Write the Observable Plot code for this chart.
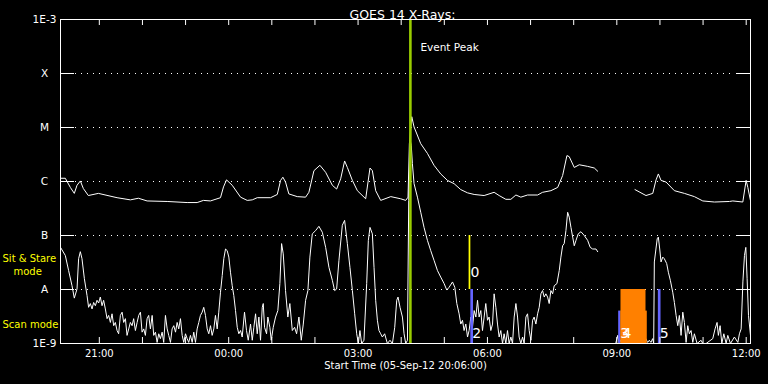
<!DOCTYPE html>
<html><head><meta charset="utf-8">
<script src="https://cdn.jsdelivr.net/npm/d3@7"></script>
<script src="https://cdn.jsdelivr.net/npm/@observablehq/plot@0.6"></script>
<style>html,body{margin:0;padding:0;background:#000;overflow:hidden;} #chart{width:768px;height:384px;}</style>
</head><body><div id="chart"></div>
<script>
// ---- data (minutes after start, log10 flux W/m^2) ----
const startTime = "2012-09-05T20:06:00Z";
const endMinutes = 960;
const titleText = "GOES 14 X-Rays:";
const xLabelText = "Start Time (05-Sep-12 20:06:00)";
const peakLabel = "Event Peak";
const peakMinute = 486.8;

const longChannel = [[0,-5.94],[6.7,-5.94],[13.7,-6.11],[19.2,-6.22],[23.0,-6.07],[27.6,-5.99],[31.8,-6.13],[38.7,-6.26],[52.7,-6.22],[78.7,-6.30],[97.2,-6.34],[108.4,-6.31],[120.5,-6.36],[148.4,-6.37],[176.2,-6.39],[190.1,-6.39],[198.9,-6.35],[208.6,-6.36],[222.6,-6.30],[226.8,-6.10],[231.0,-5.97],[238.9,-6.07],[250.5,-6.29],[259.8,-6.35],[266.8,-6.34],[273.7,-6.30],[292.3,-6.30],[301.6,-6.24],[306.2,-5.98],[309.4,-5.92],[313.1,-6.01],[317.7,-6.23],[329.4,-6.28],[341.0,-6.29],[345.6,-6.20],[352.6,-5.80],[360.9,-5.70],[368.9,-5.83],[378.2,-6.07],[384.2,-6.14],[389.8,-5.95],[395.3,-5.62],[399.1,-5.74],[406.1,-5.98],[413.0,-6.17],[424.6,-6.32],[430.6,-5.75],[433.9,-5.80],[438.5,-6.17],[445.5,-6.35],[459.5,-6.28],[473.3,-6.32],[480.3,-6.35],[483.5,-6.29],[485.4,-5.30],[488.7,-4.80],[491.9,-4.99],[501.2,-5.30],[510.5,-5.48],[519.7,-5.70],[529.0,-5.86],[538.4,-5.98],[547.6,-6.04],[556.9,-6.15],[566.3,-6.21],[575.5,-6.24],[589.4,-6.26],[603.3,-6.20],[610.3,-6.26],[619.6,-6.33],[626.6,-6.33],[633.6,-6.25],[640.5,-6.29],[649.8,-6.25],[663.8,-6.25],[670.7,-6.20],[682.3,-6.17],[691.7,-6.11],[698.6,-5.89],[704.6,-5.52],[707.8,-5.54],[714.8,-5.74],[721.7,-5.69],[733.4,-5.72],[742.7,-5.75],[747.4,-5.81],[770,null],[799.3,-6.15],[814.6,-6.26],[824.0,-6.22],[828.6,-5.97],[831.8,-5.86],[835.5,-5.98],[842.5,-6.01],[854.1,-6.17],[868.0,-6.22],[881.9,-6.28],[893.6,-6.36],[909.8,-6.38],[930.7,-6.37],[935.4,-6.36],[949.3,-6.38],[953.9,-5.98],[956.3,-6.11],[959.9,-6.35]];

const shortChannel = [[0,-7.22],[6.7,-7.37],[11.3,-7.65],[16.0,-7.93],[19.2,-8.16],[23.0,-7.99],[25.2,-7.43],[27.6,-7.30],[29.9,-7.43],[33.2,-7.80],[36.9,-8.11],[39.1,-8.33],[41.5,-8.26],[43.9,-8.36],[46.1,-8.24],[48.5,-8.30],[50.8,-8.20],[53.1,-8.25],[55.4,-8.14],[57.8,-8.30],[60.0,-8.20],[62.4,-8.36],[64.8,-8.54],[67.0,-8.48],[69.4,-8.61],[71.7,-8.45],[74.0,-8.67],[76.3,-8.61],[78.7,-8.76],[80.9,-8.82],[83.3,-8.48],[85.7,-8.42],[87.9,-8.61],[90.3,-8.54],[92.6,-8.85],[94.9,-8.73],[97.2,-8.61],[99.6,-8.67],[101.8,-8.54],[104.2,-8.76],[106.6,-8.61],[108.8,-8.48],[111.2,-8.42],[113.5,-8.79],[115.8,-8.73],[118.1,-8.85],[120.5,-8.54],[122.7,-8.48],[125.1,-8.73],[127.5,-8.48],[129.7,-8.85],[132.1,-8.79],[134.4,-8.98],[136.7,-8.82],[139.0,-8.91],[141.4,-8.79],[143.6,-8.98],[146.0,-8.48],[148.4,-8.73],[150.6,-8.85],[153.0,-8.98],[155.3,-8.73],[157.6,-8.67],[160.0,-8.79],[162.3,-8.61],[164.5,-8.73],[166.9,-8.54],[169.3,-8.85],[171.5,-8.98],[173.9,-8.82],[176.2,-8.91],[178.4,-8.98],[180.8,-8.85],[183.2,-8.98],[185.4,-8.79],[187.8,-8.98],[190.1,-8.73],[192.4,-8.61],[194.7,-8.48],[197.1,-8.42],[199.3,-8.33],[201.7,-8.48],[204.1,-8.73],[206.3,-8.82],[208.7,-8.67],[211.0,-8.85],[213.3,-8.73],[215.6,-8.48],[218.0,-8.73],[220.2,-8.42],[222.6,-8.05],[225.0,-7.74],[227.2,-7.43],[229.6,-7.25],[231.9,-7.28],[234.2,-7.40],[236.5,-7.68],[238.9,-7.93],[241.1,-8.11],[243.5,-8.39],[245.9,-8.70],[248.1,-8.82],[250.5,-8.76],[252.8,-8.88],[256.0,-8.42],[258.8,-8.76],[261.2,-8.94],[264.4,-8.64],[266.8,-8.94],[269.0,-8.70],[271.4,-8.45],[273.7,-8.82],[276.0,-8.51],[278.3,-8.94],[280.7,-8.33],[282.1,-8.26],[283.9,-8.70],[286.7,-8.82],[288.5,-8.51],[291.3,-8.70],[293.2,-8.94],[296.0,-8.70],[299.2,-8.51],[302.4,-8.39],[305.2,-7.89],[307.6,-7.15],[309.9,-7.34],[313.1,-8.02],[316.3,-8.51],[319.1,-8.26],[322.5,-8.76],[325.7,-8.70],[328.5,-8.82],[331.7,-8.51],[335.0,-8.94],[337.8,-8.64],[341.0,-8.20],[344.2,-8.02],[347.0,-7.40],[350.3,-6.97],[354.9,-6.91],[359.5,-6.83],[364.3,-6.94],[368.9,-7.22],[373.5,-7.59],[378.2,-7.83],[381.4,-8.02],[384.2,-7.99],[387.4,-7.46],[392.1,-6.81],[395.3,-6.72],[399.1,-7.15],[402.7,-7.59],[406.1,-8.02],[409.3,-8.45],[412.1,-8.82],[414.4,-9.00],[416.6,-8.76],[419.0,-9.00],[422.2,-8.94],[426.0,-7.89],[428.3,-7.09],[430.6,-6.85],[433.9,-6.97],[436.2,-7.59],[438.5,-8.20],[440.9,-8.57],[443.1,-8.76],[445.5,-8.82],[447.8,-8.88],[451.0,-8.82],[454.8,-9.00],[458.4,-8.94],[461.8,-9.00],[465.0,-8.70],[467.8,-8.20],[469.6,-8.14],[472.4,-8.33],[475.7,-8.51],[478.0,-8.82],[480.3,-9.00],[482.7,-8.94],[484.5,-6.35],[486.6,-5.24],[488.0,-5.33],[489.6,-5.67],[491.9,-6.04],[496.6,-6.29],[501.2,-6.57],[505.8,-6.85],[510.5,-7.09],[515.1,-7.28],[519.7,-7.46],[524.5,-7.65],[529.0,-7.77],[533.7,-7.89],[537.4,-8.01],[540.6,-7.96],[545.4,-7.86],[548.6,-7.96],[551.4,-8.26],[554.6,-8.45],[556.9,-8.64],[559.3,-8.57],[561.5,-8.76],[563.9,-8.64],[566.3,-8.88],[568.5,-8.76],[570.9,-8.51],[573.2,-8.70],[575.5,-8.39],[577.9,-8.51],[580.2,-8.20],[582.4,-8.51],[584.8,-8.39],[587.1,-8.76],[589.4,-8.51],[591.7,-8.26],[594.1,-8.57],[596.3,-8.51],[598.7,-8.76],[601.1,-8.64],[603.3,-8.08],[605.7,-8.33],[608.0,-8.64],[610.3,-8.88],[612.6,-8.76],[615.0,-9.00],[617.2,-8.82],[619.6,-9.00],[621.9,-8.76],[624.2,-9.00],[626.6,-8.88],[628.9,-9.00],[631.2,-8.51],[633.6,-8.26],[635.9,-8.51],[638.1,-8.88],[640.5,-9.00],[642.9,-8.88],[645.1,-9.00],[647.5,-8.51],[649.8,-8.45],[652.1,-8.76],[654.5,-8.94],[656.8,-8.57],[659.0,-8.51],[661.4,-8.64],[663.8,-8.45],[666.0,-8.33],[668.4,-8.08],[670.7,-8.02],[673.0,-8.14],[675.3,-8.08],[677.7,-8.14],[679.9,-8.26],[682.3,-8.02],[684.7,-8.08],[686.9,-7.93],[690.7,-7.89],[693.9,-7.65],[696.2,-7.40],[698.6,-7.19],[700.8,-7.15],[703.2,-6.91],[705.6,-6.57],[707.8,-6.66],[710.2,-6.85],[712.6,-7.03],[714.8,-7.19],[717.2,-7.09],[720.3,-6.97],[724.1,-6.93],[728.7,-7.00],[733.4,-7.09],[737.0,-7.22],[740.4,-7.25],[745.0,-7.25],[747.4,-7.30],[760,null],[772.5,-9.00],[775.2,-8.85],[777.3,-9.00],[785,-8.80],[800,-8.90],[812,-8.85],[816.9,-8.98],[819.2,-8.94],[821.5,-8.98],[823.9,-8.91],[825.3,-9.00],[826.2,-7.49],[830.2,-7.06],[831.8,-7.03],[833.7,-7.25],[835.5,-7.49],[837.9,-7.40],[840.1,-7.43],[843.4,-7.52],[845.7,-7.68],[848.5,-7.83],[851.8,-8.05],[854.1,-8.24],[856.5,-8.48],[858.8,-8.67],[861.0,-8.48],[863.4,-8.85],[865.8,-8.42],[868.0,-8.61],[870.4,-8.98],[872.7,-8.67],[874.9,-8.82],[877.3,-8.76],[879.7,-8.98],[881.9,-8.82],[885.7,-9.00],[891.2,-8.94],[893.6,-9.00],[898.2,-9.00],[907.5,-8.91],[910.7,-8.73],[913.5,-8.61],[915.3,-8.85],[917.7,-8.67],[920.1,-9.00],[922.9,-8.82],[926.1,-9.00],[928.4,-8.85],[932.1,-9.00],[937.6,-8.88],[942.4,-8.98],[944.6,-8.82],[947.0,-8.73],[949.4,-7.86],[951.6,-7.37],[953.5,-7.22],[955.3,-7.80],[957.2,-8.48],[960.0,-8.85]];

const yTickExponents = [-9,-8,-7,-6,-5,-4,-3];
const yTickLabels = ["1E-9","A","B","C","M","X","1E-3"];
const xTickLabels = ["21:00","00:00","03:00","06:00","09:00","12:00"];
const xTickMinutes = [54,234,414,594,774,954];

const modeNames = ["Sit & Stare","mode","Scan mode"];

const eventIds = ["0","2","3","4","","5"];
const eventKinds = ["sitstare","scan","scan","raster","raster","scan"];
const eventStart = [568.5,570.9,776.6,779.8,779.8,831.8];
const eventEnd = [570.9,574.6,779.8,814.6,816.4,835.5];
const eventCoverage = [1,1,0.6,1,0.6,1];

// ---- build ----
const t0 = new Date(startTime).getTime();
const toDate = m => new Date(t0 + m * 60000);
const series = arr => arr.map(([m, v]) => ({time: toDate(m), flux: v == null ? null : Math.pow(10, v)}));
const longData = series(longChannel);
const shortData = series(shortChannel);
const rowBottom = {sitstare: -8, scan: -9, raster: -9};
const kindColor = {sitstare: "#ffff00", scan: "#6464ff", raster: "#ff8000"};
const events = eventIds.map((id, i) => ({
  id, kind: eventKinds[i],
  x1: toDate(eventStart[i]), x2: toDate(eventEnd[i]),
  y1: Math.pow(10, rowBottom[eventKinds[i]]),
  y2: Math.pow(10, rowBottom[eventKinds[i]] + eventCoverage[i])
}));
const yTicks = yTickExponents.map((e, i) => ({value: Math.pow(10, e), label: yTickLabels[i]}));
const gridTicks = yTicks.slice(1, -1);
const xTicks = xTickLabels.map((l, i) => ({time: toDate(xTickMinutes[i]), label: l}));
const hourTicks = d3.range(54, endMinutes, 60).map(toDate);
const peakDate = toDate(peakMinute);

const W = 768, H = 384, mL = 60, mR = 18, mT = 19, mB = 41;
const frameW = W - mL - mR, frameH = H - mT - mB;
const white = "#ffffff";
const font = "DejaVu Sans";

const chart = Plot.plot({
  width: W, height: H,
  marginLeft: mL, marginRight: mR, marginTop: mT, marginBottom: mB,
  style: {background: "#000", color: white, fontFamily: font, fontSize: "10px"},
  x: {type: "utc", domain: [toDate(0), toDate(endMinutes)], axis: null},
  y: {type: "log", domain: [1e-9, 1e-3], axis: null},
  color: {type: "identity"},
  marks: [
    Plot.ruleY(gridTicks, {y: "value", stroke: white, strokeDasharray: "1,5", insetLeft: 15, insetRight: 15}),
    Plot.line(longData, {x: "time", y: "flux", stroke: white, strokeWidth: 1}),
    Plot.line(shortData, {x: "time", y: "flux", stroke: white, strokeWidth: 1}),
    Plot.rect(events, {x1: "x1", x2: "x2", y1: "y1", y2: "y2", fill: d => kindColor[d.kind]}),
    Plot.ruleX([peakDate], {x: d => d, stroke: "#99cc00", strokeWidth: 2.6}),
    Plot.text(events.filter(d => d.kind === "sitstare"), {x: "x1", y: "y1", text: "id", dx: 1.5, dy: -17, textAnchor: "start", fill: white, fontSize: 14}),
    Plot.text(events.filter(d => d.kind !== "sitstare"), {x: "x1", y: "y1", text: "id", dx: 1.5, dy: -10, textAnchor: "start", fill: white, fontSize: 14}),
    Plot.tickY(yTicks, {y: "value", stroke: white, insetRight: frameW - 14}),
    Plot.tickY(yTicks, {y: "value", stroke: white, insetLeft: frameW - 14}),
    Plot.tickX(hourTicks, {x: d => d, stroke: white, insetTop: frameH - 6}),
    Plot.tickX(hourTicks, {x: d => d, stroke: white, insetBottom: frameH - 6}),
    Plot.frame({stroke: white}),
    Plot.text(yTicks, {frameAnchor: "left", y: "value", text: "label", dx: -16, textAnchor: "middle", fill: white, fontSize: 10.5}),
    Plot.text(xTicks, {x: "time", frameAnchor: "bottom", text: "label", dy: 13, fill: white, fontSize: 10}),
    Plot.text([titleText], {frameAnchor: "top", dy: -9, dx: -3, fill: white, fontSize: 12.5}),
    Plot.text([xLabelText], {frameAnchor: "bottom", dy: 25, fill: white, fontSize: 10}),
    Plot.text([peakLabel], {x: () => peakDate, frameAnchor: "top", dy: 24, dx: 10, textAnchor: "start", fill: white, fontSize: 10.5}),
    Plot.text([modeNames[0]], {frameAnchor: "left", y: () => Math.pow(10, -7.5), dx: -58, dy: -4, textAnchor: "start", fill: "#ffff00", fontSize: 10}),
    Plot.text([modeNames[1]], {frameAnchor: "left", y: () => Math.pow(10, -7.5), dx: -47, dy: 9, textAnchor: "start", fill: "#ffff00", fontSize: 10}),
    Plot.text([modeNames[2]], {frameAnchor: "left", y: () => Math.pow(10, -8.5), dx: -58, dy: 8, textAnchor: "start", fill: "#ffff00", fontSize: 10})
  ]
});
document.getElementById("chart").appendChild(chart);
</script>
</body></html>
